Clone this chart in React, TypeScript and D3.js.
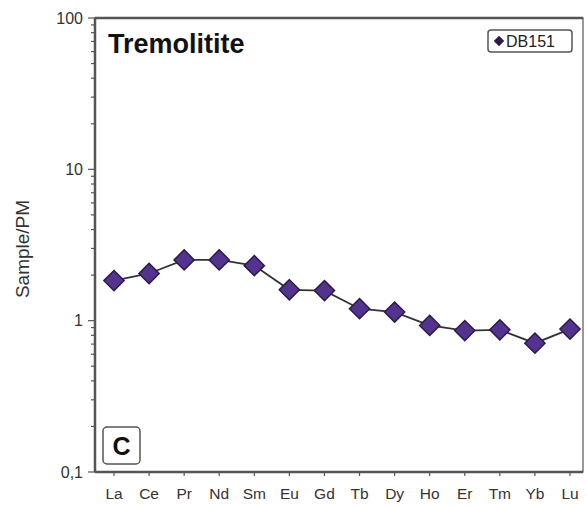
import React, { useEffect, useRef } from 'react';
import * as d3 from 'd3';

const elements = ['La', 'Ce', 'Pr', 'Nd', 'Sm', 'Eu', 'Gd', 'Tb', 'Dy', 'Ho', 'Er', 'Tm', 'Yb', 'Lu'];
const db151 = [1.84, 2.05, 2.52, 2.52, 2.31, 1.6, 1.58, 1.2, 1.14, 0.93, 0.86, 0.87, 0.71, 0.88];
const yTicks = [0.1, 1, 10, 100];
const yTickLabels = ['0,1', '1', '10', '100'];

const W = 587;
const H = 506;

const App = () => {
  const ref = useRef<SVGSVGElement>(null);

  useEffect(() => {
    const svg = d3.select(ref.current);
    svg.selectAll('*').remove();

    const margin = { top: 18, right: 4, bottom: 34, left: 95 };
    const innerW = W - margin.left - margin.right;
    const innerH = H - margin.top - margin.bottom;
    const font = 'Arial, "Liberation Sans", sans-serif';

    const x = d3.scalePoint<string>()
      .domain(elements)
      .range([19, 475]);

    const y = d3.scaleLog()
      .domain([0.1, 100])
      .range([innerH, 0]);

    const g = svg.append('g')
      .attr('transform', `translate(${margin.left},${margin.top})`);

    // frame
    g.append('rect')
      .attr('width', innerW)
      .attr('height', innerH)
      .attr('fill', 'none')
      .attr('stroke', '#555')
      .attr('stroke-width', 1.2);

    // minor log ticks
    const minor: number[] = [];
    [0.1, 1, 10].forEach(d => {
      for (let k = 2; k <= 9; k++) minor.push(d * k);
    });
    g.selectAll('.minor')
      .data(minor)
      .enter().append('line')
      .attr('x1', -4).attr('x2', 0)
      .attr('y1', d => y(d)).attr('y2', d => y(d))
      .attr('stroke', '#555')
      .attr('stroke-width', 1.2);

    g.selectAll('.major')
      .data(yTicks)
      .enter().append('line')
      .attr('x1', -7).attr('x2', 0)
      .attr('y1', d => y(d)).attr('y2', d => y(d))
      .attr('stroke', '#555')
      .attr('stroke-width', 1.2);

    // heavier axis lines
    g.append('line')
      .attr('x1', 0).attr('x2', 0)
      .attr('y1', 0).attr('y2', innerH)
      .attr('stroke', '#555')
      .attr('stroke-width', 2.5);
    g.append('line')
      .attr('x1', 0).attr('x2', innerW)
      .attr('y1', innerH).attr('y2', innerH)
      .attr('stroke', '#555')
      .attr('stroke-width', 2.5);
    g.append('line')
      .attr('x1', 0).attr('x2', innerW)
      .attr('y1', 0).attr('y2', 0)
      .attr('stroke', '#555')
      .attr('stroke-width', 2.5);

    g.selectAll('.ylab')
      .data(yTicks)
      .enter().append('text')
      .attr('x', -12)
      .attr('y', d => y(d))
      .attr('dy', '0.35em')
      .attr('text-anchor', 'end')
      .attr('font-family', font)
      .attr('font-size', 16)
      .attr('fill', '#333')
      .text((d, i) => yTickLabels[i]);

    // x ticks
    g.selectAll('.xtick')
      .data(elements)
      .enter().append('line')
      .attr('x1', d => x(d)!).attr('x2', d => x(d)!)
      .attr('y1', innerH).attr('y2', innerH + 4)
      .attr('stroke', '#555')
      .attr('stroke-width', 1.2);

    g.selectAll('.xlab')
      .data(elements)
      .enter().append('text')
      .attr('x', d => x(d)!)
      .attr('y', innerH + 27)
      .attr('text-anchor', 'middle')
      .attr('font-family', font)
      .attr('font-size', 15.5)
      .attr('fill', '#333')
      .text(d => d);

    svg.append('text')
      .attr('transform', `translate(29,${margin.top + innerH / 2 + 4}) rotate(-90)`)
      .attr('text-anchor', 'middle')
      .attr('font-family', font)
      .attr('font-size', 19)
      .attr('fill', '#333')
      .text('Sample/PM');

    // data line
    const line = d3.line<number>()
      .x((d, i) => x(elements[i])!)
      .y(d => y(d));

    g.append('path')
      .datum(db151)
      .attr('d', line)
      .attr('fill', 'none')
      .attr('stroke', '#333')
      .attr('stroke-width', 1.8);

    const diamond = d3.symbol().type(d3.symbolDiamond2).size(260);
    g.selectAll('.pt')
      .data(db151)
      .enter().append('path')
      .attr('d', diamond)
      .attr('transform', (d, i) => `translate(${x(elements[i])},${y(d)})`)
      .attr('fill', '#54338f')
      .attr('stroke', '#2a1b48')
      .attr('stroke-width', 1.5);

    // title
    g.append('text')
      .attr('x', 13)
      .attr('y', 35)
      .attr('font-family', font)
      .attr('font-size', 27)
      .attr('font-weight', 'bold')
      .attr('fill', '#111')
      .text('Tremolitite');

    // legend
    const lg = g.append('g').attr('transform', `translate(${393},${12})`);
    lg.append('rect')
      .attr('width', 84)
      .attr('height', 22)
      .attr('rx', 3)
      .attr('fill', '#fff')
      .attr('stroke', '#555')
      .attr('stroke-width', 1.5);
    lg.append('path')
      .attr('d', d3.symbol().type(d3.symbolDiamond2).size(70))
      .attr('transform', 'translate(11,11)')
      .attr('fill', '#2a1b48');
    lg.append('text')
      .attr('x', 18)
      .attr('y', 11)
      .attr('dy', '0.36em')
      .attr('font-family', font)
      .attr('font-size', 16)
      .attr('fill', '#222')
      .text('DB151');

    // panel label
    const pl = g.append('g').attr('transform', `translate(${8},${innerH - 45})`);
    pl.append('rect')
      .attr('width', 37)
      .attr('height', 37)
      .attr('rx', 4)
      .attr('fill', '#fff')
      .attr('stroke', '#555')
      .attr('stroke-width', 1.5);
    pl.append('text')
      .attr('x', 18.5)
      .attr('y', 19)
      .attr('dy', '0.36em')
      .attr('text-anchor', 'middle')
      .attr('font-family', font)
      .attr('font-size', 25)
      .attr('font-weight', 'bold')
      .attr('fill', '#111')
      .text('C');
  }, []);

  return (
    <svg ref={ref} width={W} height={H}
      style={{ position: 'absolute', left: 0, top: 0, background: '#fff' }} />
  );
};

export default App;
